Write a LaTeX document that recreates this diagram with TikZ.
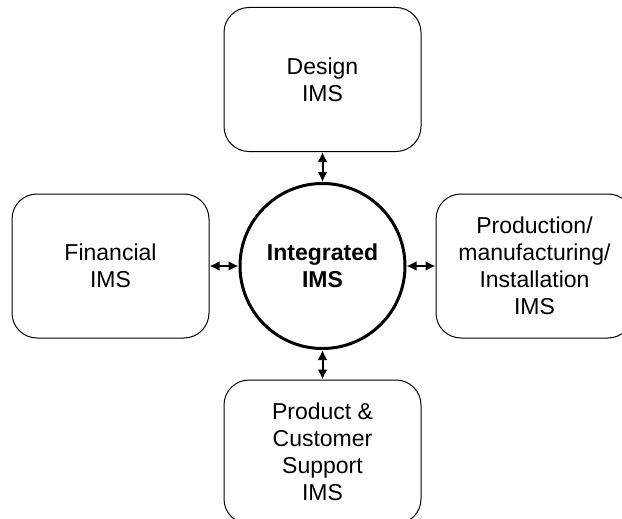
\documentclass[tikz,border=0pt]{standalone}
\usepackage{fontspec}
\setmainfont{Liberation Sans}
\usepackage{tikz}
\usetikzlibrary{arrows.meta}
\usetikzlibrary{calc}

\tikzset{
  imsbox/.style={draw=black, line width=1pt, rounded corners=25pt,
    minimum width=197pt, minimum height=144pt, align=center,
    font=\fontsize{23}{27}\selectfont},
  imscore/.style={draw=black, line width=3pt, circle, inner sep=0pt,
    minimum size=165pt, align=center,
    font=\fontsize{23}{27}\selectfont\bfseries},
  link/.style={line width=2pt,
    {Latex[length=10pt,width=10pt]}-{Latex[length=10pt,width=10pt]}}
}

\begin{document}
\begin{tikzpicture}[x=1pt,y=-1pt]

\newcommand{\midx}{322.5}
\newcommand{\midy}{266}

	\useasboundingbox (0,0) rectangle (622,519);

	\node[imscore] (core) at (\midx, \midy) {Integrated\\IMS};

	\node[imsbox] (design) at (\midx, 79.5) {Design\\IMS};
	\node[imsbox] (support) at (\midx, 452) {Product \&\\Customer\\Support\\IMS};
	\node[imsbox] (finance) at (110.5, \midy) {Financial\\IMS};
	\node[imsbox] (production) at (534.5, \midy) {Production/\\manufacturing/\\Installation\\IMS};

	\draw[link] (design) -- (core);
	\draw[link] (support) -- (core);
	\draw[link] (finance) -- (core);
	\draw[link] (production) -- (core);
\end{tikzpicture}
\end{document}
